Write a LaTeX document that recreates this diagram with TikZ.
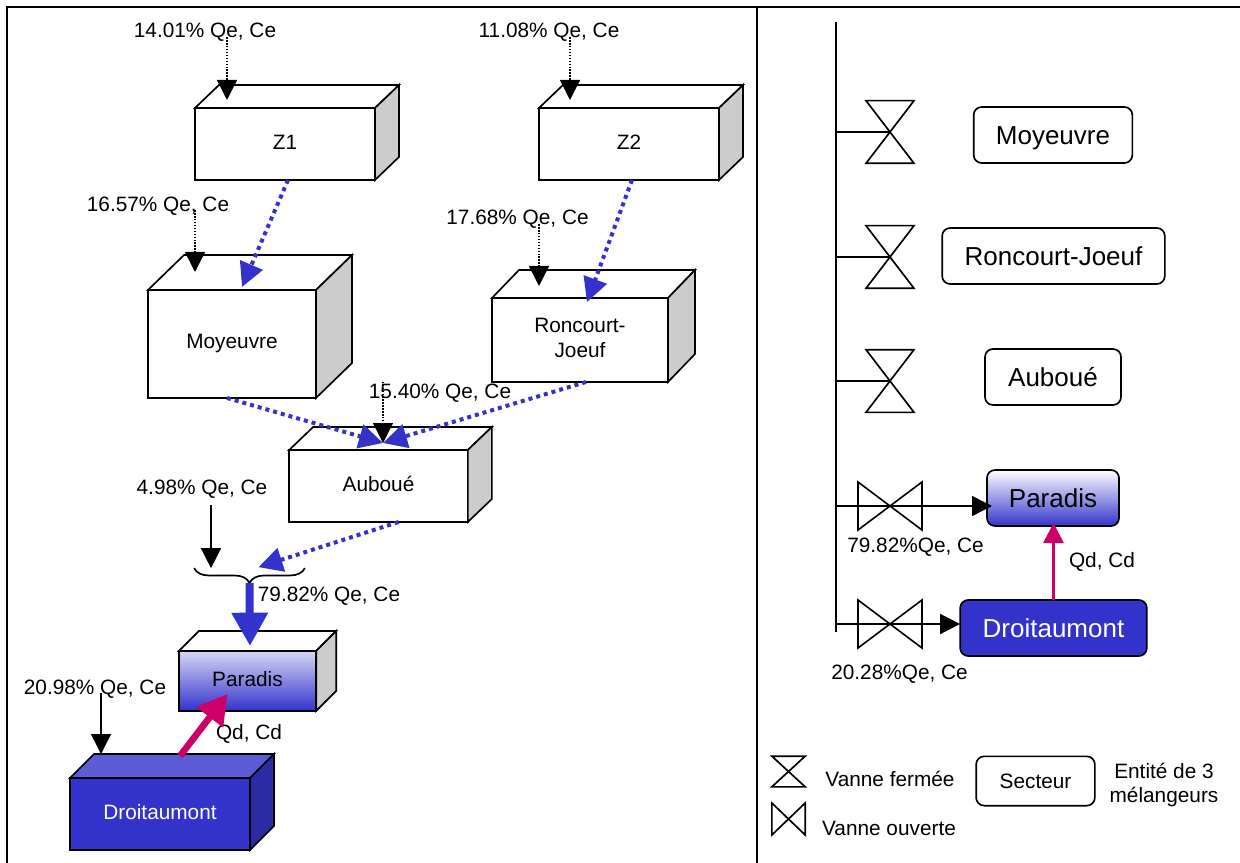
\documentclass[tikz,border=0pt]{standalone}
\usepackage{fontspec}
\setmainfont{Liberation Sans}
\usetikzlibrary{arrows.meta, calc, decorations.pathreplacing}
\definecolor{bleu}{HTML}{3333CC}
\definecolor{bleuclair}{HTML}{5C5CD6}
\definecolor{bleufonce}{HTML}{2B2BA3}
\definecolor{rose}{HTML}{CC0066}
\definecolor{gris}{HTML}{CCCCCC}

\begin{document}
\begin{tikzpicture}[
  x=0.75pt, y=-0.75pt,
  texte/.style={inner sep=0pt, outer sep=0pt, align=center,
                font=\fontsize{15.6pt}{18.7pt}\selectfont},
  bloc/.style={texte, rectangle, draw, fill=white, line width=1.25pt,
               font=\fontsize{15.6pt}{19.5pt}\selectfont,
               text height=11.2pt, text depth=3.7pt},
  secteur/.style={rectangle, draw, fill=white, rounded corners=6pt, line width=1.25pt,
                  inner sep=0pt, outer sep=0pt, minimum height=42pt, align=center,
                  text height=14pt, text depth=0pt,
                  font=\fontsize{19.5pt}{22pt}\selectfont},
  vanne/.style={inner sep=0pt, outer sep=0pt},
  vfermee/.style={vanne, minimum width=36pt, minimum height=47pt},
  vouverte/.style={vanne, minimum width=48pt, minimum height=36pt},
  trait/.style={line width=1.25pt},
  conduite/.style={line width=1.5pt},
  fleche/.style={-{Triangle[length=15pt, width=15pt]}, line width=1.1pt},
  pointille/.style={fleche, dash pattern=on 1.1pt off 1.1pt},
  debit/.style={-{Triangle[length=18pt, width=18pt]}, draw=bleu, line width=3pt,
                dash pattern=on 3pt off 3pt},
  debitfort/.style={-{Triangle[length=25pt, width=26pt]}, draw=bleu, line width=6pt},
  retour/.style={-{Triangle[length=22pt, width=24pt]}, draw=rose, line width=5pt},
  retourfin/.style={-{Triangle[length=15pt, width=15pt]}, draw=rose, line width=2pt},
]
\useasboundingbox (0,0) rectangle (1240,863);

% ---- cadre ----
\draw[line width=2.2pt] (7,863) -- (7,7) -- (1240,7);
\draw[line width=2.2pt] (757,7) -- (757,863);

% ---- blocs ----
\node[bloc, text depth=2.2pt, minimum width=135pt, minimum height=54pt] (z1) at (285,144) {Z1};
\node[bloc, text depth=2.2pt, minimum width=135pt, minimum height=54pt] (z2) at (629,144) {Z2};
\node[bloc, minimum width=126pt, minimum height=81pt] (moyeuvre) at (232,344) {Moyeuvre};
\node[bloc, text height=30.7pt, minimum width=132pt, minimum height=63pt] (roncourt) at (580,340) {Roncourt-\\Joeuf};
\node[bloc, minimum width=134pt, minimum height=54pt] (auboue) at (378.5,486) {Auboué};
\node[bloc, minimum width=103pt, minimum height=45pt, top color=bleu!20, bottom color=bleu] (paradis) at (247.5,681) {Paradis};
\node[bloc, minimum width=135pt, minimum height=54pt, fill=bleu, text=white] (droitaumont) at (160,814) {Droitaumont};

% ---- faces des blocs ----
\foreach \n/\dx/\dy/\ct/\cs in {z1/24/23/white/gris, z2/24/23/white/gris, moyeuvre/36/35/white/gris,
    roncourt/27/28/white/gris, auboue/24/23/white/gris, paradis/20/20/white/gris,
    droitaumont/24/24/bleuclair/bleufonce} {
  \draw[trait, fill=\ct] (\n.north west) -- ++(\dx,-\dy) -- ($(\n.north east)+(\dx,-\dy)$) -- (\n.north east) -- cycle;
  \draw[trait, fill=\cs] (\n.north east) -- ++(\dx,-\dy) -- ($(\n.south east)+(\dx,-\dy)$) -- (\n.south east) -- cycle;
}

% ---- debits ----
\node[texte] (q-z1)  at (205,32)  {14.01\% Qe, Ce};
\node[texte] (q-z2)  at (549,32)  {11.08\% Qe, Ce};
\node[texte] (q-moy) at (158,206) {16.57\% Qe, Ce};
\node[texte] (q-ron) at (517.5,219) {17.68\% Qe, Ce};
\node[texte] (q-aub) at (440,393) {15.40\% Qe, Ce};
\node[texte] (q-ext) at (202,489) {4.98\% Qe, Ce};
\node[texte] (q-par) at (329,596) {79.82\% Qe, Ce};
\node[texte] (q-dro) at (95,689)  {20.98\% Qe, Ce};
\node[texte] (q-ret) at (249,734) {Qd, Cd};

% ---- accolade ----
\node[vanne, minimum width=83pt, minimum height=11pt] (melange) at (249.5,575.5) {};
\draw[trait, decorate, decoration={brace, mirror, amplitude=11pt}] (melange.north west) -- (melange.north east);

% ---- connexions ----
\draw[pointille] ($(q-z1.south)+(22,-4)$) -- ($(z1.north west)+(32,-8)$);
\draw[pointille] ($(q-z2.south)+(21,-4)$) -- ($(z2.north west)+(31,-8)$);
\draw[pointille] ($(q-moy.south)+(37,-5)$) -- ($(moyeuvre.north west)+(47,-18)$);
\draw[pointille] ($(q-ron.south)+(21.5,-4)$) -- ($(roncourt.north west)+(47,-12)$);
\draw[pointille] ($(q-aub.north)+(-57,-2)$) -- ($(auboue.north)+(4.5,-7)$);
\draw[fleche] ($(q-ext.south)+(9,7)$) -- (melange.north -| {$(q-ext)+(9,0)$});
\draw[fleche] ($(q-dro.south)+(6,-5)$) -- ($(droitaumont.north west)+(31,-24)$);

\draw[debit] ($(z1.south)+(3,0)$) -- ($(moyeuvre.north)+(10,-3)$);
\draw[debit] ($(z2.south)+(3,0)$) -- ($(roncourt.north)+(7,4)$);
\draw[debit] ($(moyeuvre.south)+(-5,0)$) -- ($(auboue.north)+(4.5,-7)$);
\draw[debit] ($(roncourt.south)+(6,0)$) -- ($(auboue.north)+(4.5,-7)$);
\draw[debit] ($(auboue.south)+(20,0)$) -- ($(melange.north)+(9,-1)$);
\draw[debitfort] (melange.south) -- ($(paradis.north)+(2.5,-5)$);
\draw[retour] ($(droitaumont.north)+(20,-22)$) -- ($(paradis.south)+(-20,-17)$);

% ---- collecteur ----
\coordinate (haut) at (835.5,22);
\coordinate (bas)  at (835.5,632);
\draw[conduite] (haut) -- (bas);

% ---- vannes ----
\node[vfermee] (v-moy) at (890,132) {};
\node[vfermee] (v-ron) at (890,257) {};
\node[vfermee] (v-aub) at (890,381) {};
\node[vouverte] (v-par) at (890,506) {};
\node[vouverte] (v-dro) at (890,624) {};
\node[vanne, minimum width=25pt, minimum height=23pt] (l-ferme) at (788.5,771.5) {};
\node[vanne, minimum width=25pt, minimum height=24pt] (l-ouvert) at (788.5,819) {};
\foreach \v in {v-moy, v-ron, v-aub, l-ferme} {
  \draw[trait] (\v.north west) -- (\v.north east) -- (\v.south west) -- (\v.south east) -- cycle;
}
\foreach \v in {v-par, v-dro, l-ouvert} {
  \draw[trait] (\v.north west) -- (\v.south west) -- (\v.north east) -- (\v.south east) -- cycle;
}

% ---- secteurs ----
\node[secteur, minimum width=119pt] (s-moy) at (1053,135) {Moyeuvre};
\node[secteur, minimum width=167pt] (s-ron) at (1053.5,256) {Roncourt-Joeuf};
\node[secteur, minimum width=102pt] (s-aub) at (1053,377) {Auboué};
\node[secteur, minimum width=99pt, top color=white, bottom color=bleu] (s-par) at (1053,498) {Paradis};
\node[secteur, minimum width=140pt, fill=bleu, text=white] (s-dro) at (1053.5,628) {Droitaumont};

\draw[conduite] (haut |- v-moy) -- (v-moy.center);
\draw[conduite] (haut |- v-ron) -- (v-ron.center);
\draw[conduite] (haut |- v-aub) -- (v-aub.center);
\draw[fleche] (haut |- v-par) -- ($(v-par -| s-par.west)+(5,0)$);
\draw[fleche] (haut |- v-dro) -- (v-dro -| s-dro.west);
\draw[retourfin] (s-dro.north) -- ($(s-par.south)+(0.5,-3)$);

\node[texte] (q-par2) at (915.5,547) {79.82\%Qe, Ce};
\node[texte] (q-dro2) at (899.5,674) {20.28\%Qe, Ce};
\node[texte] (q-ret2) at (1102,562)  {Qd, Cd};

% ---- legende ----
\node[texte] (t-ferme)  at (890,779) {Vanne fermée};
\node[texte] (t-ouvert) at (889,828) {Vanne ouverte};
\node[bloc, rounded corners=6pt, text depth=0pt, minimum width=89pt, minimum height=37pt] (l-secteur) at (1035.5,781) {Secteur};
\node[texte] (t-secteur) at (1164,785) {Entité de 3\\mélangeurs};
\end{tikzpicture}
\end{document}
